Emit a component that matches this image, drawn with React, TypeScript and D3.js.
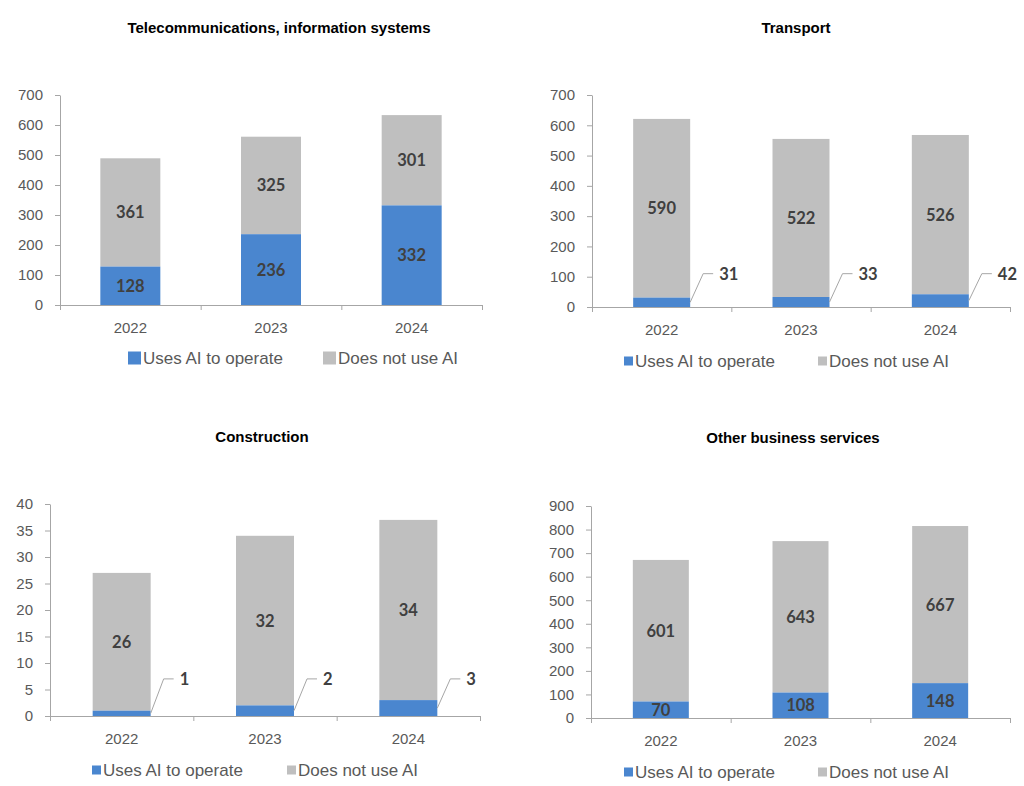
import { useEffect, useRef } from "react";
import * as d3 from "d3";

const years = ["2022", "2023", "2024"];

const telecomAI = [128, 236, 332];
const telecomNoAI = [361, 325, 301];
const telecomTicks = [0, 100, 200, 300, 400, 500, 600, 700];

const transportAI = [31, 33, 42];
const transportNoAI = [590, 522, 526];
const transportTicks = [0, 100, 200, 300, 400, 500, 600, 700];

const constructionAI = [1, 2, 3];
const constructionNoAI = [26, 32, 34];
const constructionTicks = [0, 5, 10, 15, 20, 25, 30, 35, 40];

const otherAI = [70, 108, 148];
const otherNoAI = [601, 643, 667];
const otherTicks = [0, 100, 200, 300, 400, 500, 600, 700, 800, 900];

const seriesNames = ["Uses AI to operate", "Does not use AI"];

const BLUE = "#4a86cf";
const GREY = "#bfbfbf";
const AXIS = "#a6a6a6";
const TICK_TEXT = "#595959";
const LABEL = "#404040";
const SANS = "'Liberation Sans', Arial, sans-serif";
const LABEL_FONT = "Lato, 'Open Sans', sans-serif";

type Panel = {
  title: string;
  titleX: number;
  titleY: number;
  ai: number[];
  noAi: number[];
  ticks: number[];
  left: number;
  right: number;
  top: number;
  bottom: number;
  barWidth: number;
  callout: boolean;
  calloutAt?: number; // label height in data units
  legendY: number;
  legendSize: number;
  legendX: [number, number];
};

const panels: Panel[] = [
  {
    title: "Telecommunications, information systems",
    titleX: 279,
    titleY: 27,
    ai: telecomAI,
    noAi: telecomNoAI,
    ticks: telecomTicks,
    left: 60,
    right: 482,
    top: 95,
    bottom: 305,
    barWidth: 60,
    callout: false,
    legendY: 358,
    legendSize: 13,
    legendX: [128, 323],
  },
  {
    title: "Transport",
    titleX: 796,
    titleY: 27,
    ai: transportAI,
    noAi: transportNoAI,
    ticks: transportTicks,
    left: 592,
    right: 1010,
    top: 95,
    bottom: 307,
    barWidth: 57,
    callout: true,
    calloutAt: 110,
    legendY: 361,
    legendSize: 9,
    legendX: [624, 818],
  },
  {
    title: "Construction",
    titleX: 262,
    titleY: 436,
    ai: constructionAI,
    noAi: constructionNoAI,
    ticks: constructionTicks,
    left: 50,
    right: 480,
    top: 504,
    bottom: 716,
    barWidth: 58,
    callout: true,
    calloutAt: 7,
    legendY: 770,
    legendSize: 9,
    legendX: [92, 287],
  },
  {
    title: "Other business services",
    titleX: 793,
    titleY: 437,
    ai: otherAI,
    noAi: otherNoAI,
    ticks: otherTicks,
    left: 591,
    right: 1010,
    top: 506,
    bottom: 718,
    barWidth: 56,
    callout: false,
    legendY: 772,
    legendSize: 9,
    legendX: [624, 818],
  },
];

const drawPanel = (
  svg: d3.Selection<SVGSVGElement, unknown, null, undefined>,
  p: Panel
) => {
  const g = svg.append("g");

  const x = d3.scaleBand().domain(years).range([p.left, p.right]);
  const y = d3
    .scaleLinear()
    .domain([0, p.ticks[p.ticks.length - 1]])
    .range([p.bottom, p.top]);
  const bw = x.bandwidth();

  // Title
  g.append("text")
    .attr("x", p.titleX)
    .attr("y", p.titleY)
    .attr("text-anchor", "middle")
    .attr("dominant-baseline", "central")
    .style("font-family", SANS)
    .style("font-size", "15px")
    .style("font-weight", "bold")
    .attr("fill", "#000")
    .text(p.title);

  // Bars
  years.forEach((yr, i) => {
    const bx = x(yr)! + (bw - p.barWidth) / 2;
    const a = p.ai[i];
    const n = p.noAi[i];

    g.append("rect")
      .attr("x", bx)
      .attr("y", y(a + n))
      .attr("width", p.barWidth)
      .attr("height", y(a) - y(a + n))
      .attr("fill", GREY);

    g.append("rect")
      .attr("x", bx)
      .attr("y", y(a))
      .attr("width", p.barWidth)
      .attr("height", y(0) - y(a))
      .attr("fill", BLUE);
  });

  // Y axis
  const yAxis = g
    .append("g")
    .attr("transform", `translate(${p.left},0)`)
    .call(
      d3
        .axisLeft(y)
        .tickValues(p.ticks)
        .tickSize(5)
        .tickSizeOuter(0)
        .tickPadding(12)
    );

  // X axis, ticks on category boundaries
  const xEdges = d3.scaleLinear().domain([0, years.length]).range([p.left, p.right]);
  const xAxis = g
    .append("g")
    .attr("transform", `translate(0,${p.bottom})`)
    .call(
      d3
        .axisBottom(xEdges)
        .tickValues(d3.range(years.length + 1))
        .tickFormat(() => "")
        .tickSize(5)
        .tickSizeOuter(0)
    );

  [yAxis, xAxis].forEach((ax) => {
    ax.select(".domain").attr("stroke", AXIS);
    ax.selectAll(".tick line").attr("stroke", AXIS);
    ax.selectAll(".tick text")
      .attr("fill", TICK_TEXT)
      .style("font-family", SANS)
      .style("font-size", "15px");
  });

  years.forEach((yr) => {
    g.append("text")
      .attr("x", x(yr)! + bw / 2)
      .attr("y", p.bottom + 22)
      .attr("text-anchor", "middle")
      .attr("dominant-baseline", "central")
      .attr("fill", TICK_TEXT)
      .style("font-family", SANS)
      .style("font-size", "15px")
      .text(yr);
  });

  // Value labels
  const valueLabel = (tx: number, ty: number, v: number, anchor = "middle") =>
    g
      .append("text")
      .attr("x", tx)
      .attr("y", ty)
      .attr("text-anchor", anchor)
      .attr("dominant-baseline", "central")
      .attr("fill", LABEL)
      .style("font-family", LABEL_FONT)
      .style("font-size", "16.5px")
      .style("font-weight", "bold")
      .text(v);

  years.forEach((yr, i) => {
    const cx = x(yr)! + bw / 2;
    const a = p.ai[i];
    const n = p.noAi[i];
    valueLabel(cx, y(a + n / 2), n);

    if (!p.callout) {
      valueLabel(cx, y(a / 2), a);
    } else {
      const sx = cx + p.barWidth / 2;
      const sy = y(a / 2);
      const ly = y(p.calloutAt!);
      const ex = sx + 13;
      g.append("path")
        .attr("d", `M${sx},${sy}L${ex},${ly}H${ex + 10}`)
        .attr("fill", "none")
        .attr("stroke", AXIS)
        .attr("stroke-width", 1);
      valueLabel(ex + 16, ly, a, "start");
    }
  });

  // Legend
  [BLUE, GREY].forEach((c, i) => {
    const lx = p.legendX[i];
    g.append("rect")
      .attr("x", lx)
      .attr("y", p.legendY - p.legendSize / 2)
      .attr("width", p.legendSize)
      .attr("height", p.legendSize)
      .attr("fill", c);
    g.append("text")
      .attr("x", lx + p.legendSize + 2)
      .attr("y", p.legendY)
      .attr("dominant-baseline", "central")
      .attr("fill", TICK_TEXT)
      .style("font-family", SANS)
      .style("font-size", "17px")
      .text(seriesNames[i]);
  });
};

export default function App() {
  const svgRef = useRef<SVGSVGElement>(null);

  useEffect(() => {
    const svg = d3.select(svgRef.current!);
    svg.selectAll("*").remove();
    panels.forEach((p) => drawPanel(svg, p));
  }, []);

  return (
    <svg
      ref={svgRef}
      width={1024}
      height={786}
      style={{ position: "absolute", left: 0, top: 0, background: "#fff" }}
    />
  );
}
